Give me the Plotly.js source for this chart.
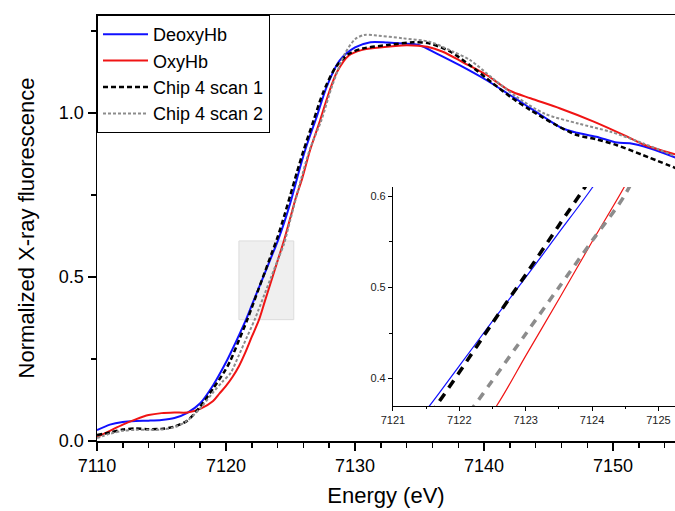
<!DOCTYPE html>
<html>
<head>
<meta charset="utf-8">
<script src="https://cdn.plot.ly/plotly-3.0.1.min.js"></script>
<style>html,body{margin:0;padding:0;background:#fff;}#chart{width:675px;height:511px;}</style>
</head>
<body>
<div id="chart"></div>
<script>
// ---- Data ----
const seriesNames = ["DeoxyHb", "OxyHb", "Chip 4 scan 1", "Chip 4 scan 2"];

const deoxyEnergy = [7110, 7111, 7112, 7113, 7114, 7115, 7116, 7117, 7118, 7119, 7120, 7120.5, 7121, 7121.55, 7122, 7122.5, 7123, 7123.5, 7124, 7124.5, 7125, 7125.5, 7126, 7126.5, 7127, 7127.8, 7128.8, 7130, 7131.2, 7132.5, 7133.7, 7135, 7136.3, 7138.1, 7140.2, 7142, 7143, 7144.6, 7146.1, 7147.2, 7148.7, 7150.3, 7151.3, 7152.9, 7155];
const deoxyHb = [0.033, 0.050, 0.058, 0.061, 0.062, 0.064, 0.070, 0.086, 0.115, 0.170, 0.240, 0.280, 0.322, 0.370, 0.414, 0.463, 0.511, 0.560, 0.609, 0.665, 0.728, 0.800, 0.870, 0.930, 0.985, 1.080, 1.160, 1.200, 1.216, 1.215, 1.212, 1.207, 1.182, 1.146, 1.100, 1.055, 1.030, 0.989, 0.953, 0.940, 0.928, 0.910, 0.908, 0.892, 0.862];

const oxyEnergy = [7110, 7111, 7112, 7113, 7114, 7115, 7116, 7117, 7118, 7119, 7119.5, 7120, 7120.5, 7121, 7121.5, 7122, 7122.56, 7123, 7123.5, 7124, 7124.5, 7125, 7125.4, 7125.9, 7126.5, 7127.3, 7128, 7128.6, 7129.5, 7130.5, 7131.7, 7134, 7135.6, 7136.8, 7138.4, 7140.2, 7142, 7143.6, 7145.9, 7148.5, 7151.1, 7152.3, 7155];
const oxyHb = [0.012, 0.031, 0.050, 0.066, 0.079, 0.085, 0.087, 0.087, 0.098, 0.122, 0.145, 0.168, 0.195, 0.228, 0.270, 0.318, 0.370, 0.425, 0.487, 0.550, 0.612, 0.683, 0.740, 0.800, 0.885, 0.979, 1.065, 1.125, 1.175, 1.192, 1.199, 1.207, 1.202, 1.187, 1.154, 1.116, 1.068, 1.045, 1.014, 0.974, 0.928, 0.905, 0.872];

const scan1Energy = [7110, 7111, 7112, 7113, 7114, 7115, 7116, 7117, 7118, 7119, 7119.8, 7120.3, 7121, 7121.65, 7122, 7122.5, 7123, 7123.5, 7124, 7124.5, 7125, 7125.5, 7126, 7126.8, 7127.5, 7128.5, 7129.5, 7130.6, 7132.7, 7134.5, 7135.8, 7137.4, 7138.9, 7140.7, 7142.2, 7143.6, 7145.6, 7147.2, 7148.7, 7150.3, 7152.3, 7155];
const chip4Scan1 = [0.018, 0.026, 0.035, 0.038, 0.036, 0.037, 0.044, 0.062, 0.105, 0.160, 0.207, 0.242, 0.307, 0.370, 0.407, 0.461, 0.514, 0.568, 0.622, 0.685, 0.752, 0.820, 0.885, 0.979, 1.060, 1.140, 1.180, 1.197, 1.208, 1.216, 1.212, 1.187, 1.146, 1.090, 1.045, 1.009, 0.963, 0.933, 0.920, 0.902, 0.872, 0.830];

const scan2Energy = [7110, 7111, 7112, 7113, 7114, 7115, 7116, 7117, 7118, 7119, 7119.7, 7120.35, 7121, 7121.6, 7122.2, 7122.5, 7123, 7123.5, 7124, 7124.5, 7125, 7125.8, 7126.5, 7127.4, 7128.2, 7129.2, 7130, 7130.7, 7131.5, 7133.7, 7135.8, 7137.6, 7138.9, 7140.7, 7142.5, 7144.7, 7147.3, 7149.8, 7152.3, 7155];
const chip4Scan2 = [0.009, 0.022, 0.031, 0.034, 0.034, 0.035, 0.042, 0.062, 0.100, 0.148, 0.180, 0.207, 0.262, 0.315, 0.368, 0.398, 0.449, 0.500, 0.551, 0.602, 0.677, 0.796, 0.890, 0.979, 1.080, 1.180, 1.225, 1.238, 1.237, 1.228, 1.217, 1.187, 1.162, 1.105, 1.050, 0.998, 0.968, 0.943, 0.908, 0.865];

// Zoom window shown in the inset
const zoomEnergyRange = [7121, 7125.25];
const zoomValueRange = [0.37, 0.61];

// ---- Styles ----
const font = "Arial, 'Liberation Sans', sans-serif";
const mainStyles = [
  {color: "#1010ff", width: 2, dash: "solid"},
  {color: "#f01414", width: 2, dash: "solid"},
  {color: "#000000", width: 2.5, dash: "5px,3px"},
  {color: "#8c8c8c", width: 2, dash: "3px,2px"}
];
const insetStyles = [
  {color: "#1010ff", width: 1.2, dash: "solid"},
  {color: "#f01414", width: 1.2, dash: "solid"},
  {color: "#000000", width: 3.5, dash: "9px,7px"},
  {color: "#8c8c8c", width: 3.5, dash: "8px,7px"}
];
const xs = [deoxyEnergy, oxyEnergy, scan1Energy, scan2Energy];
const ys = [deoxyHb, oxyHb, chip4Scan1, chip4Scan2];

const traces = [];
for (let i = 0; i < 4; i++) {
  traces.push({
    x: xs[i], y: ys[i], name: seriesNames[i], type: "scatter", mode: "lines",
    line: Object.assign({shape: "spline", smoothing: 0.8}, mainStyles[i]),
    xaxis: "x", yaxis: "y", hoverinfo: "skip"
  });
}
for (let i = 0; i < 4; i++) {
  traces.push({
    x: xs[i], y: ys[i], name: seriesNames[i], type: "scatter", mode: "lines",
    line: Object.assign({shape: "spline", smoothing: 0.8}, insetStyles[i]),
    xaxis: "x2", yaxis: "y2", showlegend: false, hoverinfo: "skip"
  });
}

const layout = {
  width: 675, height: 511,
  margin: {l: 97, r: 0, t: 15, b: 70},
  paper_bgcolor: "#ffffff", plot_bgcolor: "#ffffff",
  font: {family: font, color: "#000"},
  showlegend: true,
  legend: {
    x: 0, y: 1, xanchor: "left", yanchor: "top",
    bgcolor: "#ffffff", bordercolor: "#000000", borderwidth: 1,
    font: {family: font, size: 18, color: "#000"},
    itemwidth: 45, tracegroupgap: 0
  },
  xaxis: {
    domain: [0, 1], range: [7110, 7154.8], anchor: "y",
    showline: true, linecolor: "#000", linewidth: 1.5, mirror: true,
    ticks: "outside", ticklen: 8, tickwidth: 1.5, tickcolor: "#000",
    tick0: 7110, dtick: 10,
    minor: {ticks: "outside", dtick: 2, ticklen: 5, tickwidth: 1.5, tickcolor: "#000"},
    showgrid: false, zeroline: false,
    tickfont: {family: font, size: 18, color: "#000"},
    title: {text: "Energy (eV)", font: {family: font, size: 22, color: "#000"}, standoff: 12}
  },
  yaxis: {
    domain: [0, 1], range: [0, 1.299], anchor: "x",
    showline: true, linecolor: "#000", linewidth: 1.5,
    ticks: "outside", ticklen: 8, tickwidth: 1.5, tickcolor: "#000",
    tick0: 0, dtick: 0.5, tickformat: ".1f",
    minor: {ticks: "outside", dtick: 0.25, ticklen: 5, tickwidth: 1.5, tickcolor: "#000"},
    showgrid: false, zeroline: false,
    tickfont: {family: font, size: 18, color: "#000"},
    title: {text: "Normalized X-ray fluorescence", font: {family: font, size: 22, color: "#000"}, standoff: 18}
  },
  xaxis2: {
    domain: [0.512, 1], range: zoomEnergyRange, anchor: "y2",
    showline: true, linecolor: "#000", linewidth: 1,
    ticks: "outside", ticklen: 4, tickwidth: 1, tickcolor: "#000",
    tick0: 7121, dtick: 1,
    minor: {ticks: "outside", dtick: 0.5, ticklen: 2.5, tickwidth: 1, tickcolor: "#000"},
    showgrid: false, zeroline: false,
    tickfont: {family: font, size: 11, color: "#222"}
  },
  yaxis2: {
    domain: [0.0822, 0.596], range: zoomValueRange, anchor: "x2",
    showline: true, linecolor: "#000", linewidth: 1,
    ticks: "outside", ticklen: 4, tickwidth: 1, tickcolor: "#000",
    tick0: 0.4, dtick: 0.1, tickformat: ".1f",
    minor: {ticks: "outside", dtick: 0.05, ticklen: 2.5, tickwidth: 1, tickcolor: "#000"},
    showgrid: false, zeroline: false,
    tickfont: {family: font, size: 11, color: "#222"}
  },
  shapes: [{
    type: "rect", xref: "x", yref: "y", layer: "below",
    x0: zoomEnergyRange[0], x1: zoomEnergyRange[1], y0: zoomValueRange[0], y1: zoomValueRange[1],
    fillcolor: "#efefef", line: {color: "#dcdcdc", width: 1}
  }]
};

Plotly.newPlot("chart", traces, layout, {staticPlot: true, displayModeBar: false});
</script>
</body>
</html>
